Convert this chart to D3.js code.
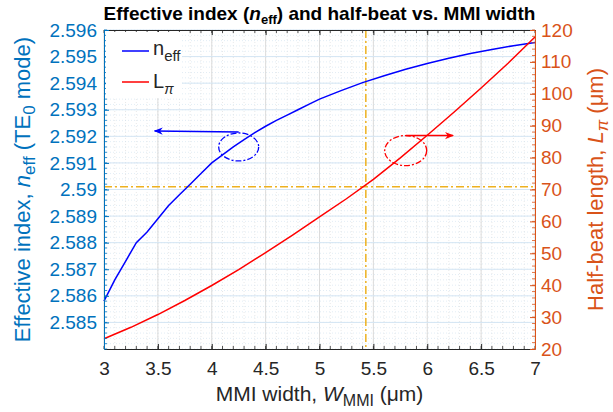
<!DOCTYPE html>
<html>
<head>
<meta charset="utf-8">
<script src="https://cdn.jsdelivr.net/npm/d3@7"></script>
<style>
body { margin: 0; background: #fff; }
text { font-family: "Liberation Sans", Arial, sans-serif; }
</style>
</head>
<body>
<script>
// data
var neffWidth = [3.0, 3.1, 3.2, 3.3, 3.4, 3.5, 3.6, 3.7, 3.8, 3.9, 4.0, 4.1, 4.2, 4.3, 4.4, 4.5, 4.6, 4.7, 4.8, 4.9, 5.0, 5.2, 5.4, 5.6, 5.8, 6.0, 6.2, 6.4, 6.6, 6.8, 7.0];
var neffValues = [2.5858, 2.5866, 2.5873, 2.5880, 2.5884, 2.5889, 2.5894, 2.5898, 2.5902, 2.5906, 2.5910, 2.5913, 2.5916, 2.59188, 2.59214, 2.59238, 2.5926, 2.5928, 2.5930, 2.5932, 2.5934, 2.59372, 2.59402, 2.59428, 2.59452, 2.59474, 2.59494, 2.59512, 2.59527, 2.59541, 2.59553];
var lpiWidth = [3.0, 3.25, 3.5, 3.75, 4.0, 4.25, 4.5, 4.75, 5.0, 5.25, 5.5, 5.75, 6.0, 6.25, 6.5, 6.75, 7.0];
var lpiValues = [23.2, 26.8, 30.8, 35.2, 39.9, 44.9, 50.2, 55.7, 61.4, 67.1, 73.2, 79.9, 87.0, 94.3, 101.8, 109.6, 117.8];

var xTicks = [3, 3.5, 4, 4.5, 5, 5.5, 6, 6.5, 7];
var leftTicks = [2.585, 2.586, 2.587, 2.588, 2.589, 2.59, 2.591, 2.592, 2.593, 2.594, 2.595, 2.596];
var rightTicks = [20, 30, 40, 50, 60, 70, 80, 90, 100, 110, 120];

// operating point (orange guide lines)
var opWidth = 5.43;
var opNeff = 2.5901;

var width = 613, height = 412;
var padding = {left: 104, right: 78, top: 30, bottom: 63};

var blueAx = '#0072BD', orangeAx = '#D95319', dark = '#262626';

var svg = d3.select('body').append('svg')
  .attr('width', width)
  .attr('height', height);

var xScale = d3.scaleLinear().domain([3, 7]).range([padding.left, width - padding.right]);
var yLeft = d3.scaleLinear().domain([2.584, 2.596]).range([height - padding.bottom, padding.top]);
var yRight = d3.scaleLinear().domain([20, 120]).range([height - padding.bottom, padding.top]);

var x0 = padding.left, x1 = width - padding.right;
var y0 = height - padding.bottom, y1 = padding.top;

// grid
var minorX = d3.range(3, 7.0001, 0.1);
var minorY = d3.range(2.584, 2.59601, 0.0002);
var grid = svg.append('g');
grid.selectAll('.mx').data(minorX).enter().append('line')
  .attr('x1', d => xScale(d)).attr('x2', d => xScale(d))
  .attr('y1', y1).attr('y2', y0)
  .attr('stroke', '#d8d8d8').attr('stroke-width', 0.6).attr('stroke-dasharray', '1,2');
grid.selectAll('.my').data(minorY).enter().append('line')
  .attr('x1', x0).attr('x2', x1)
  .attr('y1', d => yLeft(d)).attr('y2', d => yLeft(d))
  .attr('stroke', '#cfe0ee').attr('stroke-width', 0.6).attr('stroke-dasharray', '1,2');
grid.selectAll('.gx').data(xTicks).enter().append('line')
  .attr('x1', d => xScale(d)).attr('x2', d => xScale(d))
  .attr('y1', y1).attr('y2', y0)
  .attr('stroke', '#dcdcdc').attr('stroke-width', 1);
grid.selectAll('.gy').data(leftTicks).enter().append('line')
  .attr('x1', x0).attr('x2', x1)
  .attr('y1', d => yLeft(d)).attr('y2', d => yLeft(d))
  .attr('stroke', '#d4e5f3').attr('stroke-width', 1);

// orange guide lines
svg.append('line')
  .attr('x1', xScale(opWidth)).attr('x2', xScale(opWidth))
  .attr('y1', y1).attr('y2', y0)
  .attr('stroke', '#EDB120').attr('stroke-width', 1.5).attr('stroke-dasharray', '8,3,2,3');
svg.append('line')
  .attr('x1', x0).attr('x2', x1)
  .attr('y1', yLeft(opNeff)).attr('y2', yLeft(opNeff))
  .attr('stroke', '#EDB120').attr('stroke-width', 1.5).attr('stroke-dasharray', '8,3,2,3');

// curves
var neffLine = d3.line().x(d => xScale(d[0])).y(d => yLeft(d[1]));
var lpiLine = d3.line().x(d => xScale(d[0])).y(d => yRight(d[1]));

svg.append('path')
  .datum(d3.zip(neffWidth, neffValues))
  .attr('d', neffLine)
  .attr('fill', 'none').attr('stroke', '#0000FF').attr('stroke-width', 1.5);
svg.append('path')
  .datum(d3.zip(lpiWidth, lpiValues))
  .attr('d', lpiLine)
  .attr('fill', 'none').attr('stroke', '#FF0000').attr('stroke-width', 1.5);

// axes, ticks pointing inward like matlab
function styleAxis(g, color) {
  g.select('.domain').attr('stroke', color);
  g.selectAll('.tick line').attr('stroke', color);
  g.selectAll('.tick text').attr('fill', color).style('font-size', '19px')
    .style('font-family', '"Liberation Sans", Arial, sans-serif');
}

var xAxis = d3.axisBottom(xScale).tickValues(xTicks).tickSize(-5).tickPadding(13).tickSizeOuter(0)
  .tickFormat(d3.format('~g'));
svg.append('g').attr('transform', 'translate(0,' + y0 + ')').call(xAxis).call(g => styleAxis(g, dark));
svg.append('g').attr('transform', 'translate(0,' + y1 + ')')
  .call(d3.axisTop(xScale).tickValues(xTicks).tickSize(-5).tickSizeOuter(0).tickFormat(''))
  .call(g => styleAxis(g, dark));

// minor x ticks
[y0, y1].forEach(function(yy) {
  svg.append('g').selectAll('line').data(minorX).enter().append('line')
    .attr('x1', d => xScale(d)).attr('x2', d => xScale(d))
    .attr('y1', yy).attr('y2', yy === y0 ? yy - 3 : yy + 3)
    .attr('stroke', dark).attr('stroke-width', 0.8);
});

var leftAxis = d3.axisLeft(yLeft).tickValues(leftTicks).tickSize(-5).tickPadding(7).tickSizeOuter(0)
  .tickFormat(d3.format('~g'));
svg.append('g').attr('transform', 'translate(' + x0 + ',0)').call(leftAxis).call(g => styleAxis(g, blueAx));
svg.append('g').selectAll('line').data(minorY).enter().append('line')
  .attr('x1', x0).attr('x2', x0 + 3)
  .attr('y1', d => yLeft(d)).attr('y2', d => yLeft(d))
  .attr('stroke', blueAx).attr('stroke-width', 0.8);

var rightAxis = d3.axisRight(yRight).tickValues(rightTicks).tickSize(-5).tickPadding(6).tickSizeOuter(0);
svg.append('g').attr('transform', 'translate(' + x1 + ',0)').call(rightAxis).call(g => styleAxis(g, orangeAx));
svg.append('g').selectAll('line').data(d3.range(20, 120.001, 2)).enter().append('line')
  .attr('x1', x1).attr('x2', x1 - 3)
  .attr('y1', d => yRight(d)).attr('y2', d => yRight(d))
  .attr('stroke', orangeAx).attr('stroke-width', 0.8);

// annotations: dashed ellipses + arrows
var defs = svg.append('defs');
[['ahBlue', '#0000FF'], ['ahRed', '#FF0000']].forEach(function(m) {
  defs.append('marker').attr('id', m[0]).attr('viewBox', '0 0 10 10')
    .attr('refX', 9).attr('refY', 5).attr('markerWidth', 6).attr('markerHeight', 6)
    .attr('orient', 'auto-start-reverse')
    .append('path').attr('d', 'M0,1 L10,5 L0,9 L3,5 Z').attr('fill', m[1]);
});

svg.append('ellipse')
  .attr('cx', xScale(4.25)).attr('cy', yLeft(2.5916))
  .attr('rx', 20).attr('ry', 14)
  .attr('fill', 'none').attr('stroke', '#0000FF').attr('stroke-width', 1.3).attr('stroke-dasharray', '6,2,2,2');
svg.append('line')
  .attr('x1', xScale(4.25)).attr('y1', yLeft(2.5916) - 15)
  .attr('x2', xScale(3.47)).attr('y2', yLeft(2.5916) - 16)
  .attr('stroke', '#0000FF').attr('stroke-width', 1.5).attr('marker-end', 'url(#ahBlue)');

svg.append('ellipse')
  .attr('cx', xScale(5.80)).attr('cy', yRight(82.2))
  .attr('rx', 21).attr('ry', 15)
  .attr('fill', 'none').attr('stroke', '#FF0000').attr('stroke-width', 1.3).attr('stroke-dasharray', '6,2,2,2');
svg.append('line')
  .attr('x1', xScale(5.80)).attr('y1', yRight(82.2) - 15)
  .attr('x2', xScale(6.24)).attr('y2', yRight(82.2) - 15)
  .attr('stroke', '#FF0000').attr('stroke-width', 1.5).attr('marker-end', 'url(#ahRed)');

// legend
var lg = svg.append('g').attr('transform', 'translate(' + (x0 + 2) + ',' + (y1 + 2) + ')');
lg.append('rect').attr('width', 76).attr('height', 66).attr('fill', '#fff');
lg.append('line').attr('x1', 16).attr('x2', 43).attr('y1', 19).attr('y2', 19).attr('stroke', '#0000FF').attr('stroke-width', 1.5);
lg.append('line').attr('x1', 16).attr('x2', 43).attr('y1', 50).attr('y2', 50).attr('stroke', '#FF0000').attr('stroke-width', 1.5);
var t1 = lg.append('text').attr('x', 47).attr('y', 23).attr('fill', dark).style('font-size', '20px');
t1.append('tspan').text('n');
t1.append('tspan').attr('dy', 6).style('font-size', '15px').text('eff');
var t2 = lg.append('text').attr('x', 47).attr('y', 56).attr('fill', dark).style('font-size', '20px');
t2.append('tspan').text('L');
t2.append('tspan').attr('dy', 6).style('font-size', '14px').style('font-style', 'italic').text('π');

// title
var title = svg.append('text').attr('x', (x0 + x1) / 2).attr('y', 20)
  .attr('text-anchor', 'middle').attr('fill', '#000').style('font-size', '19px').style('font-weight', 'bold');
title.append('tspan').text('Effective index (');
title.append('tspan').style('font-style', 'italic').text('n');
title.append('tspan').attr('dy', 4).style('font-size', '13px').text('eff');
title.append('tspan').attr('dy', -4).text(') and half-beat vs. MMI width');

// x label
var xl = svg.append('text').attr('x', (x0 + x1) / 2).attr('y', 401)
  .attr('text-anchor', 'middle').attr('fill', dark).style('font-size', '21px');
xl.append('tspan').text('MMI width, ');
xl.append('tspan').style('font-style', 'italic').text('W');
xl.append('tspan').attr('dy', 5).style('font-size', '16px').text('MMI');
xl.append('tspan').attr('dy', -5).text(' (μm)');

// left label
var ll = svg.append('text').attr('transform', 'translate(30,' + ((y0 + y1) / 2) + ') rotate(-90)')
  .attr('text-anchor', 'middle').attr('fill', blueAx).style('font-size', '22px');
ll.append('tspan').text('Effective index, ');
ll.append('tspan').style('font-style', 'italic').text('n');
ll.append('tspan').attr('dy', 5).style('font-size', '17px').text('eff');
ll.append('tspan').attr('dy', -5).text(' (TE');
ll.append('tspan').attr('dy', 5).style('font-size', '17px').text('0');
ll.append('tspan').attr('dy', -5).text(' mode)');

// right label
var rl = svg.append('text').attr('transform', 'translate(603,' + ((y0 + y1) / 2) + ') rotate(-90)')
  .attr('text-anchor', 'middle').attr('fill', orangeAx).style('font-size', '22px');
rl.append('tspan').text('Half-beat length, ');
rl.append('tspan').style('font-style', 'italic').text('L');
rl.append('tspan').attr('dy', 5).style('font-size', '17px').style('font-style', 'italic').text('π');
rl.append('tspan').attr('dy', -5).text(' (μm)');
</script>
</body>
</html>
